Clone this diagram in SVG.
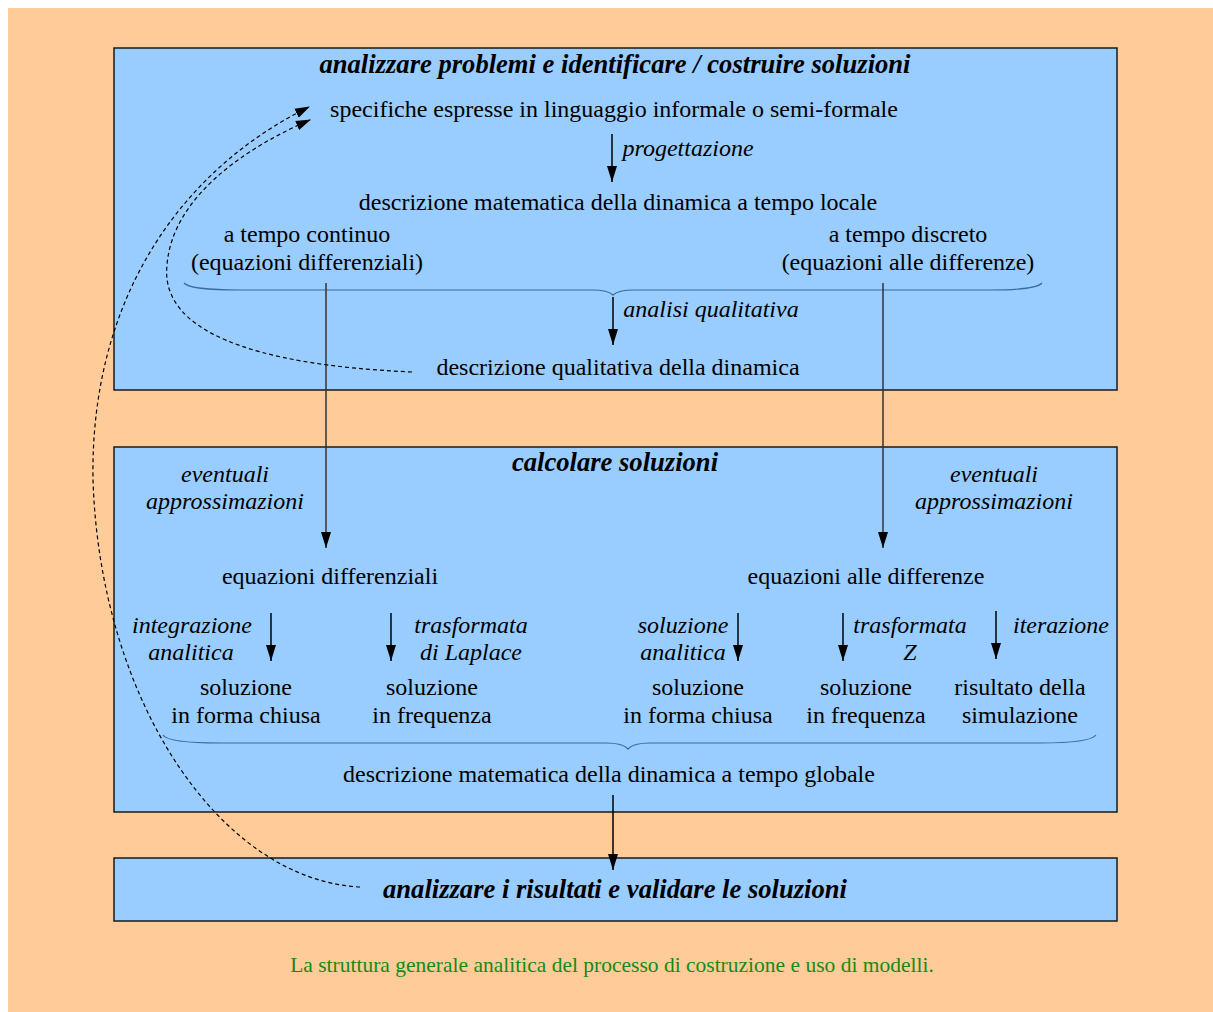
<svg xmlns="http://www.w3.org/2000/svg" width="1213" height="1012" viewBox="0 0 1213 1012">
<defs>
<style>
text{font-family:"Liberation Serif","Times New Roman",serif;fill:#000;text-anchor:middle}
.t{font-size:24px}
.i{font-size:24px;font-style:italic}
.h{font-size:26.6px;font-style:italic;font-weight:bold}
.cap{font-size:21.5px;fill:#158a15}
.box{fill:#99ccff;stroke:#1a1a1a;stroke-width:1.5}
.ar{fill:none;stroke:#000;stroke-width:1.5;marker-end:url(#ah)}
.lg{fill:none;stroke:#333;stroke-width:1.5;marker-end:url(#ah)}
.br{fill:none;stroke:#3b6aa0;stroke-width:1.2}
.ds{fill:none;stroke:#000;stroke-width:1.2;stroke-dasharray:4 3;marker-end:url(#ah2)}
</style>
<marker id="ah" markerUnits="userSpaceOnUse" markerWidth="17" markerHeight="11" refX="16" refY="5" orient="auto"><path d="M0,0 L16,5 L0,10 z" fill="#000"/></marker>
<marker id="ah2" markerUnits="userSpaceOnUse" markerWidth="17" markerHeight="11" refX="14" refY="5" orient="auto"><path d="M0,0 L15,5 L0,10 z" fill="#000"/></marker>
</defs>
<rect x="0" y="0" width="1213" height="1012" fill="#fff"/>
<rect x="8" y="8" width="1205" height="1004" fill="#ffcc99"/>

<g id="box1">
<rect class="box" x="114" y="48" width="1003" height="342"/>
<text class="h" x="615" y="73">analizzare problemi e identificare / costruire soluzioni</text>
<text class="t" x="614" y="117">specifiche espresse in linguaggio informale o semi-formale</text>
<text class="i" x="688" y="156">progettazione</text>
<text class="t" x="618" y="210">descrizione matematica della dinamica a tempo locale</text>
<text class="t" x="307" y="242">a tempo continuo</text>
<text class="t" x="307" y="270">(equazioni differenziali)</text>
<text class="t" x="908" y="242">a tempo discreto</text>
<text class="t" x="908" y="270">(equazioni alle differenze)</text>
<text class="i" x="711" y="317">analisi qualitativa</text>
<text class="t" x="618" y="375">descrizione qualitativa della dinamica</text>
</g>

<g id="box2">
<rect class="box" x="114" y="447" width="1003" height="365"/>
<text class="h" x="615" y="471">calcolare soluzioni</text>
<text class="i" x="225" y="482">eventuali</text>
<text class="i" x="225" y="509">approssimazioni</text>
<text class="i" x="994" y="482">eventuali</text>
<text class="i" x="994" y="509">approssimazioni</text>
<text class="t" x="330" y="584">equazioni differenziali</text>
<text class="t" x="866" y="584">equazioni alle differenze</text>
<text class="i" x="192" y="633">integrazione</text>
<text class="i" x="191" y="660">analitica</text>
<text class="i" x="471" y="633">trasformata</text>
<text class="i" x="471" y="660">di Laplace</text>
<text class="i" x="683" y="633">soluzione</text>
<text class="i" x="683" y="660">analitica</text>
<text class="i" x="910" y="633">trasformata</text>
<text class="i" x="910" y="660">Z</text>
<text class="i" x="1061" y="633">iterazione</text>
<text class="t" x="246" y="695">soluzione</text>
<text class="t" x="246" y="723">in forma chiusa</text>
<text class="t" x="432" y="695">soluzione</text>
<text class="t" x="432" y="723">in frequenza</text>
<text class="t" x="698" y="695">soluzione</text>
<text class="t" x="698" y="723">in forma chiusa</text>
<text class="t" x="866" y="695">soluzione</text>
<text class="t" x="866" y="723">in frequenza</text>
<text class="t" x="1020" y="695">risultato della</text>
<text class="t" x="1020" y="723">simulazione</text>
<text class="t" x="609" y="782">descrizione matematica della dinamica a tempo globale</text>
</g>

<g id="box3">
<rect class="box" x="114" y="858" width="1003" height="63"/>
<text class="h" x="615" y="898">analizzare i risultati e validare le soluzioni</text>
</g>

<g id="connectors">
<path class="br" d="M184,283 Q190,290 240,290 L592,290 Q608,290 613,295 Q618,290 634,290 L990,290 Q1036,290 1042,283"/>
<path class="br" d="M163,735 Q168,743 220,743 L606,743 Q623,743 628,749 Q633,743 650,743 L1040,743 Q1090,743 1096,735"/>
<path class="ar" d="M612,134 L612,182"/>
<path class="ar" d="M613,297 L613,345"/>
<path class="lg" d="M326,283 L326,548"/>
<path class="lg" d="M883,283 L883,548"/>
<path class="ar" d="M271,613 L271,661"/>
<path class="ar" d="M391,613 L391,661"/>
<path class="ar" d="M738,613 L738,661"/>
<path class="ar" d="M843,613 L843,661"/>
<path class="ar" d="M996,611 L996,659"/>
<path class="ar" d="M613,795 L613,870"/>
<path class="ds" d="M360,887 C220,880 100,700 93,480 C90,300 180,170 309,107"/>
<path class="ds" d="M412,372 C250,365 160,330 167,265 C172,200 240,150 310,120"/>
</g>

<text class="cap" x="612" y="972">La struttura generale analitica del processo di costruzione e uso di modelli.</text>
</svg>
